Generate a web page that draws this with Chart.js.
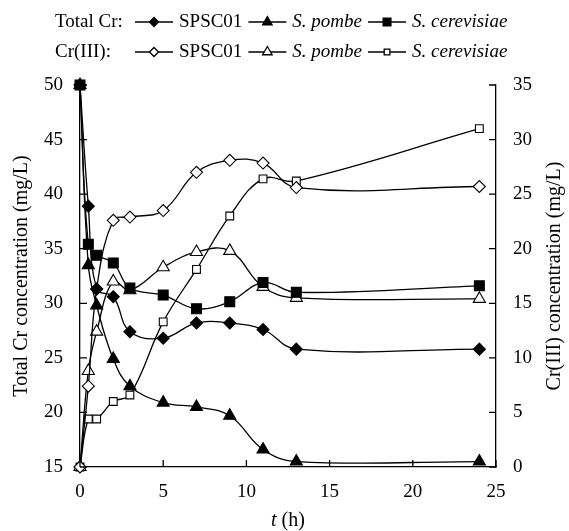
<!DOCTYPE html>
<html><head><meta charset="utf-8">
<script src="https://cdn.jsdelivr.net/npm/chart.js@4.4.1/dist/chart.umd.min.js"></script>
<style>html,body{margin:0;padding:0;background:#fff}#wrap{width:569px;height:531px;position:relative}</style>
</head><body><div id="wrap"><canvas id="c"></canvas></div>
<script>
// ---- data ----
const timeH = [0, 0.5, 1, 2, 3, 5, 7, 9, 11, 13, 24];
const totalSPSC01     = [50, 38.9, 31.3, 30.6, 27.4, 26.8, 28.2, 28.2, 27.6, 25.8, 25.8];
const totalPombe      = [50, 33.5, 29.8, 24.9, 22.4, 20.9, 20.5, 19.7, 16.6, 15.5, 15.5];
const totalCerevisiae = [50, 35.4, 34.4, 33.7, 31.4, 30.75, 29.5, 30.15, 31.9, 31.0, 31.6];
const cr3SPSC01       = [0, 7.4, 16.3, 22.6, 22.9, 23.5, 27.0, 28.1, 27.85, 25.6, 25.7];
const cr3Pombe        = [0, 8.8, 12.4, 17.0, 16.2, 18.3, 19.7, 19.8, 16.5, 15.5, 15.4];
const cr3Cerevisiae   = [0, 4.4, 4.4, 6.0, 6.6, 13.3, 18.1, 23.0, 26.4, 26.2, 31.0];
const seriesNames = ['SPSC01', 'S. pombe', 'S. cerevisiae'];
const rowLabels = ['Total Cr:', 'Cr(III):'];
const xTitleParts = ['t', ' (h)'];
const leftTitle = 'Total Cr concentration (mg/L)';
const rightTitle = 'Cr(III) concentration (mg/L)';

const FONT = "'Liberation Serif', 'Times New Roman', serif";
Chart.defaults.font.family = FONT;
Chart.defaults.font.size = 19;
Chart.defaults.color = '#000';
const TITLE_PX = 20, LEG_PX = 19;

const pts = (ys) => timeH.map((t, i) => ({x: t, y: ys[i]}));
const styles = [
  {pointStyle: 'rectRot', radius: 6},
  {pointStyle: 'triangle', radius: 7},
  {pointStyle: 'rect', radius: 7}
];
const openStyles = [
  {pointStyle: 'rectRot', radius: 6},
  {pointStyle: 'triangle', radius: 7},
  {pointStyle: 'rect', radius: 5.5}
];
function ds(label, ys, axis, st, filled) {
  return {
    label, data: pts(ys), yAxisID: axis,
    borderColor: '#000', borderWidth: 1.3, tension: 0.4,
    pointStyle: st.pointStyle, pointRadius: st.radius, pointHoverRadius: st.radius,
    pointBackgroundColor: filled ? '#000' : '#fff',
    pointBorderColor: '#000', pointBorderWidth: 1.1,
    fill: false, clip: false
  };
}
const datasets = [
  ds('Total SPSC01', totalSPSC01, 'y', styles[0], true),
  ds('Total S. pombe', totalPombe, 'y', styles[1], true),
  ds('Total S. cerevisiae', totalCerevisiae, 'y', styles[2], true),
  ds('Cr(III) SPSC01', cr3SPSC01, 'y1', openStyles[0], false),
  ds('Cr(III) S. pombe', cr3Pombe, 'y1', openStyles[1], false),
  ds('Cr(III) S. cerevisiae', cr3Cerevisiae, 'y1', openStyles[2], false)
];

const decorPlugin = {
  id: 'decor',
  afterDraw(chart) {
    const ctx = chart.ctx;
    const ca = chart.chartArea;
    const sx = chart.scales.x, sy = chart.scales.y, sy1 = chart.scales.y1;
    ctx.save();
    // inward tick marks
    ctx.strokeStyle = '#000'; ctx.lineWidth = 1.3;
    ctx.beginPath();
    sx.ticks.forEach(t => { const p = sx.getPixelForValue(t.value); ctx.moveTo(p, ca.bottom); ctx.lineTo(p, ca.bottom - 7); });
    sy.ticks.forEach(t => { const p = sy.getPixelForValue(t.value); ctx.moveTo(ca.left, p); ctx.lineTo(ca.left + 7, p); });
    sy1.ticks.forEach(t => { const p = sy1.getPixelForValue(t.value); ctx.moveTo(ca.right, p); ctx.lineTo(ca.right - 7, p); });
    ctx.stroke();
    // axis titles
    ctx.fillStyle = '#000';
    ctx.textBaseline = 'middle'; ctx.textAlign = 'center';
    ctx.font = TITLE_PX + 'px ' + FONT;
    const midY = (ca.top + ca.bottom) / 2;
    ctx.save(); ctx.translate(22, midY); ctx.rotate(-Math.PI / 2); ctx.fillText(leftTitle, 0, 0); ctx.restore();
    ctx.save(); ctx.translate(555, midY); ctx.rotate(-Math.PI / 2); ctx.fillText(rightTitle, 0, 0); ctx.restore();
    // x title with italic t
    ctx.textAlign = 'left';
    ctx.font = 'italic ' + TITLE_PX + 'px ' + FONT; const w1 = ctx.measureText(xTitleParts[0]).width;
    ctx.font = TITLE_PX + 'px ' + FONT; const w2 = ctx.measureText(xTitleParts[1]).width;
    let x0 = (ca.left + ca.right) / 2 - (w1 + w2) / 2;
    ctx.font = 'italic ' + TITLE_PX + 'px ' + FONT; ctx.fillText(xTitleParts[0], x0, 521);
    ctx.font = TITLE_PX + 'px ' + FONT; ctx.fillText(xTitleParts[1], x0 + w1, 521);
    // legend
    const rowsY = [22, 52];
    const startX = 55;
    const segW = 38, gapA = 6, gapB = 6;
    let x = 135;
    const cols = [];
    seriesNames.forEach((n, i) => {
      cols.push(x);
      ctx.font = (i === 0 ? '' : 'italic ') + LEG_PX + 'px ' + FONT;
      x += segW + gapA + ctx.measureText(n).width + gapB;
    });
    rowsY.forEach((ry, r) => {
      ctx.font = LEG_PX + 'px ' + FONT; ctx.fillStyle = '#000';
      ctx.fillText(rowLabels[r], startX, ry);
      seriesNames.forEach((n, i) => {
        const cx = cols[i];
        ctx.strokeStyle = '#000'; ctx.lineWidth = 1.3;
        ctx.beginPath(); ctx.moveTo(cx, ry); ctx.lineTo(cx + segW, ry); ctx.stroke();
        const st = (r === 0 ? styles : openStyles)[i];
        ctx.fillStyle = r === 0 ? '#000' : '#fff';
        Chart.helpers.drawPoint(ctx, {pointStyle: st.pointStyle, radius: st.radius - 1.5, rotation: 0, borderWidth: 1.1}, cx + segW / 2, ry);
        ctx.fillStyle = '#000';
        ctx.font = (i === 0 ? '' : 'italic ') + LEG_PX + 'px ' + FONT;
        ctx.fillText(n, cx + segW + gapA, ry);
      });
    });
    ctx.restore();
  }
};

new Chart(document.getElementById('c'), {
  type: 'line',
  data: {datasets},
  options: {
    responsive: true, maintainAspectRatio: false, animation: false,
    layout: {padding: {top: 85, left: 0, right: 0, bottom: 0}},
    plugins: {legend: {display: false}, tooltip: {enabled: false}},
    scales: {
      x: {
        type: 'linear', min: 0, max: 25,
        ticks: {stepSize: 5, padding: 14, maxRotation: 0},
        grid: {display: false, drawTicks: false},
        border: {display: true, color: '#000', width: 1.3},
        afterFit: s => { s.height = 64; }
      },
      y: {
        position: 'left', min: 15, max: 50,
        ticks: {stepSize: 5, padding: 17},
        grid: {display: false, drawTicks: false},
        border: {display: true, color: '#000', width: 1.3},
        afterFit: s => { s.width = 80; }
      },
      y1: {
        position: 'right', min: 0, max: 35,
        ticks: {stepSize: 5, padding: 17},
        grid: {display: false, drawTicks: false},
        border: {display: true, color: '#000', width: 1.3},
        afterFit: s => { s.width = 73; }
      }
    }
  },
  plugins: [decorPlugin]
});
</script></body></html>
